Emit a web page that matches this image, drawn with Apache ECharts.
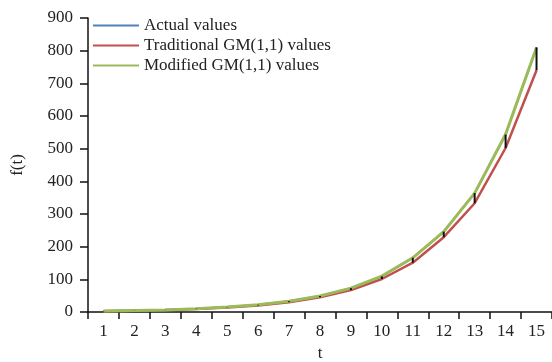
<!DOCTYPE html>
<html>
<head>
<meta charset="utf-8">
<script src="https://cdn.jsdelivr.net/npm/echarts@6/dist/echarts.min.js"></script>
<style>html,body{margin:0;padding:0;background:#fff;}#c{width:552px;height:362px;}</style>
</head>
<body>
<div id="c"></div>
<script>
var categories = ['1','2','3','4','5','6','7','8','9','10','11','12','13','14','15'];
var actualValues = [3, 4.4, 6.5, 10, 15, 22, 33, 49, 73, 109, 166, 246, 364, 543, 810];
var traditionalValues = [2, 4, 6, 9, 14, 20, 30, 45, 67, 101, 151, 229, 333, 502, 740];
var modifiedValues = [3, 4.5, 6.5, 10, 15, 22, 33, 49, 73, 110, 166, 246, 364, 544, 810];
var yTicks = {min: 0, max: 900, interval: 100};

var FONT = 'Liberation Serif';
var chart = echarts.init(document.getElementById('c'), null, {renderer: 'canvas'});
var errData = categories.map(function (c, i) {
  return [i, traditionalValues[i], actualValues[i]];
});
chart.setOption({
  animation: false,
  backgroundColor: '#fff',
  textStyle: {fontFamily: FONT},
  grid: {left: 88, right: 0, top: 18, bottom: 50, containLabel: false, outerBoundsMode: 'none'},
  legend: {
    left: 87, top: 12, orient: 'vertical', itemWidth: 46, itemHeight: 14, itemGap: 3,
    padding: 5,
    itemStyle: {opacity: 0},
    textStyle: {fontFamily: FONT, fontSize: 17, color: '#222', lineHeight: 17},
    data: ['Actual values', 'Traditional GM(1,1) values', 'Modified GM(1,1) values']
  },
  xAxis: {
    type: 'category', data: categories, boundaryGap: true,
    name: 't', nameLocation: 'middle', nameGap: 32,
    nameTextStyle: {fontFamily: FONT, fontSize: 17, color: '#222'},
    axisLine: {lineStyle: {color: '#111', width: 1.5}},
    axisTick: {show: true, inside: false, length: 7, alignWithLabel: false, lineStyle: {color: '#111', width: 1.5}},
    axisLabel: {margin: 11, fontFamily: FONT, fontSize: 17, color: '#222', interval: 0},
    splitLine: {show: false}
  },
  yAxis: {
    type: 'value', min: yTicks.min, max: yTicks.max, interval: yTicks.interval,
    name: 'f(t)', nameLocation: 'middle', nameGap: 62, nameRotate: 90,
    nameTextStyle: {fontFamily: FONT, fontSize: 17, color: '#222'},
    axisLine: {show: true, lineStyle: {color: '#111', width: 1.5}},
    axisTick: {show: true, inside: false, length: 8, lineStyle: {color: '#111', width: 1.5}},
    axisLabel: {margin: 15, fontFamily: FONT, fontSize: 17, color: '#222'},
    splitLine: {show: false}
  },
  series: [
    {name: 'Actual values', type: 'line', data: actualValues, symbol: 'none',
     lineStyle: {color: '#4F81BD', width: 2}, itemStyle: {color: '#4F81BD'}, z: 2},
    {name: 'Traditional GM(1,1) values', type: 'line', data: traditionalValues, symbol: 'none',
     lineStyle: {color: '#C0504D', width: 2.5}, itemStyle: {color: '#C0504D'}, z: 3},
    {name: 'Modified GM(1,1) values', type: 'line', data: modifiedValues, symbol: 'none',
     lineStyle: {color: '#9BBB59', width: 3}, itemStyle: {color: '#9BBB59'}, z: 4},
    {name: 'err', type: 'custom', data: errData, z: 5, silent: true,
     renderItem: function (params, api) {
       var p1 = api.coord([api.value(0), api.value(1)]);
       var p2 = api.coord([api.value(0), api.value(2)]);
       return {type: 'line', shape: {x1: p1[0], y1: p1[1], x2: p2[0], y2: p2[1]},
               style: {stroke: '#111', lineWidth: 2}};
     }}
  ]
});
</script>
</body>
</html>
